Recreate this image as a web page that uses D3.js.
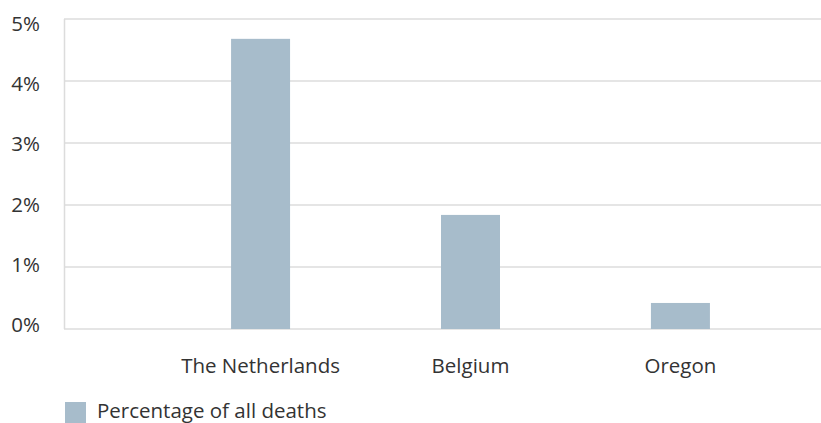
<!DOCTYPE html>
<html>
<head>
<meta charset="utf-8">
<script src="https://cdn.jsdelivr.net/npm/d3@7"></script>
<style>
  body { margin: 0; background: #fff; }
  svg { display: block; font-family: "Open Sans", sans-serif; }
</style>
</head>
<body>
<div id="chart"></div>
<script>
// data
const categories = ['The Netherlands', 'Belgium', 'Oregon'];
const values = [4.68, 1.84, 0.42];
const yTicks = [0, 1, 2, 3, 4, 5];
const seriesName = 'Percentage of all deaths';

const width = 821, height = 423;
const barColor = '#a7bccb', gridColor = '#dcdcdc', textColor = '#333';
const font = '"Open Sans", sans-serif', fontSize = '20.5px';

let svg = d3.select('#chart').append('svg')
  .attr('width', width)
  .attr('height', height);

let x = d3.scaleBand().domain(categories).range([155.5, 785.5]).paddingInner(0.719).paddingOuter(0.36),
  y = d3.scaleLinear().domain([0, 5]).range([329, 19]),
  yLabel = d3.scaleLinear().domain([0, 5]).range([325, 24]); // labels sit a touch off the grid lines

// grid lines
svg.append('g')
  .selectAll('line')
  .data(yTicks)
  .enter()
    .append('line')
    .attr('x1', 64)
    .attr('x2', width)
    .attr('y1', (d) => y(d))
    .attr('y2', (d) => y(d))
    .attr('stroke', gridColor)
    .attr('stroke-width', 1.5);

// left axis line
svg.append('line')
  .attr('x1', 64.5).attr('x2', 64.5)
  .attr('y1', y(5)).attr('y2', y(0))
  .attr('stroke', gridColor)
  .attr('stroke-width', 1.5);

// bars
svg.append('g')
  .selectAll('rect')
  .data(values)
  .enter()
    .append('rect')
    .attr('x', (d, i) => x(categories[i]))
    .attr('y', (d) => y(d))
    .attr('width', x.bandwidth())
    .attr('height', (d) => y(0) - y(d))
    .attr('fill', barColor);

// y axis labels
let yAxis = d3.axisLeft(yLabel)
  .tickValues(yTicks)
  .tickFormat((d) => d + '%')
  .tickSize(0)
  .tickPadding(0);

let gy = svg.append('g')
  .attr('transform', 'translate(40,0)')
  .call(yAxis);
gy.select('.domain').remove();
gy.selectAll('text')
  .attr('fill', textColor)
  .style('font-size', fontSize)
  .style('font-family', font);

// x axis labels
let xAxis = d3.axisBottom(x).tickSize(0).tickPadding(0);
let gx = svg.append('g')
  .attr('transform', 'translate(0,354)')
  .call(xAxis);
gx.select('.domain').remove();
gx.selectAll('text')
  .attr('fill', textColor)
  .attr('dy', '0.95em')
  .style('font-size', fontSize)
  .style('font-family', font);

// legend
let legend = svg.append('g').attr('transform', 'translate(65,402)');
legend.append('rect')
  .attr('width', 21)
  .attr('height', 21)
  .attr('fill', barColor);
legend.append('text')
  .attr('x', 32)
  .attr('y', 16)
  .attr('fill', textColor)
  .style('font-size', fontSize)
  .style('font-family', font)
  .text(seriesName);
</script>
</body>
</html>
